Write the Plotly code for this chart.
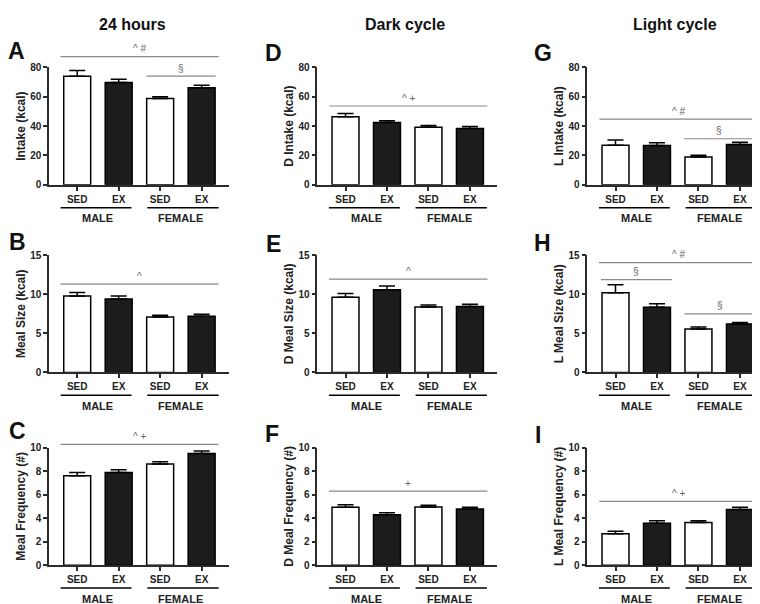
import plotly.graph_objects as go

# ---------------- data ----------------
categories = ["SED", "EX", "SED", "EX"]
groups = ["MALE", "FEMALE"]
column_titles = ["24 hours", "Dark cycle", "Light cycle"]

intake_24h = [74.0, 69.8, 58.8, 66.2]
intake_24h_err = [3.9, 2.2, 1.3, 1.6]
meal_size_24h = [9.77, 9.40, 7.10, 7.19]
meal_size_24h_err = [0.45, 0.37, 0.20, 0.25]
meal_freq_24h = [7.62, 7.88, 8.61, 9.50]
meal_freq_24h_err = [0.27, 0.25, 0.19, 0.22]

intake_dark = [46.4, 42.4, 39.2, 38.4]
intake_dark_err = [2.2, 1.3, 1.3, 1.4]
meal_size_dark = [9.61, 10.58, 8.36, 8.44]
meal_size_dark_err = [0.47, 0.46, 0.25, 0.29]
meal_freq_dark = [4.93, 4.29, 4.95, 4.77]
meal_freq_dark_err = [0.22, 0.17, 0.15, 0.15]

intake_light = [27.0, 26.8, 19.0, 27.5]
intake_light_err = [3.5, 1.9, 1.1, 1.5]
meal_size_light = [10.2, 8.32, 5.56, 6.19]
meal_size_light_err = [1.0, 0.45, 0.25, 0.20]
meal_freq_light = [2.68, 3.56, 3.62, 4.73]
meal_freq_light_err = [0.20, 0.22, 0.15, 0.20]

# significance bars: (x start, x end, y value, label)
sig_A = [(-0.40, 3.41, 87.4, "^ #"), (1.67, 3.34, 74.0, "§")]
sig_D = [(-0.39, 3.42, 53.7, "^ +")]
sig_G = [(-0.39, 3.43, 44.8, "^ #"), (1.65, 3.36, 31.4, "§")]
sig_B = [(-0.40, 3.41, 11.28, "^")]
sig_E = [(-0.40, 3.42, 11.92, "^")]
sig_H = [(-0.40, 3.42, 14.03, "^ #"), (-0.35, 1.36, 11.87, "§"), (1.66, 3.36, 7.48, "§")]
sig_C = [(-0.40, 3.41, 10.28, "^ +")]
sig_F = [(-0.40, 3.42, 6.3, "+")]
sig_I = [(-0.39, 3.43, 5.43, "^ +")]

# group underline spans (category units)
group_spans = [(-0.40, 1.31), (1.69, 3.41)]
group_centers = [0.5, 2.5]

# panel definitions: (row, col, letter, values, errors, y title, y max, y ticks, sig)
panels = [
    (0, 0, "A", intake_24h, intake_24h_err, "Intake (kcal)", 80, [0, 20, 40, 60, 80], sig_A),
    (0, 1, "D", intake_dark, intake_dark_err, "D Intake (kcal)", 80, [0, 20, 40, 60, 80], sig_D),
    (0, 2, "G", intake_light, intake_light_err, "L Intake (kcal)", 80, [0, 20, 40, 60, 80], sig_G),
    (1, 0, "B", meal_size_24h, meal_size_24h_err, "Meal Size (kcal)", 15, [0, 5, 10, 15], sig_B),
    (1, 1, "E", meal_size_dark, meal_size_dark_err, "D Meal Size (kcal)", 15, [0, 5, 10, 15], sig_E),
    (1, 2, "H", meal_size_light, meal_size_light_err, "L Meal Size (kcal)", 15, [0, 5, 10, 15], sig_H),
    (2, 0, "C", meal_freq_24h, meal_freq_24h_err, "Meal Frequency (#)", 10, [0, 2, 4, 6, 8, 10], sig_C),
    (2, 1, "F", meal_freq_dark, meal_freq_dark_err, "D Meal Frequency (#)", 10, [0, 2, 4, 6, 8, 10], sig_F),
    (2, 2, "I", meal_freq_light, meal_freq_light_err, "L Meal Frequency (#)", 10, [0, 2, 4, 6, 8, 10], sig_I),
]

# ---------------- layout geometry ----------------
W, H = 760, 604
col_left_px = [41, 309.3, 579.3]
col_width_px = 180
row_px = [(54.5, 174.3), (246.0, 365.7), (442.5, 562.3)]  # (top, bottom)
x_range = [-0.68, 3.66]

letter_pos = {"A": (8, 38), "D": (265, 40), "G": (535, 40),
              "B": (9, 233), "E": (265, 235), "H": (534, 234),
              "C": (9, 425), "F": (264, 429), "I": (530, 430)}
title_x_px = [124, 397, 667]

FONT = "Liberation Sans, Arial, sans-serif"
AX = "#2b2b2b"
SIG = "#8a8a8a"
bar_fill = ["white", "#1c1c1c", "white", "#1c1c1c"]

fig = go.Figure()
layout = dict(width=W, height=H, margin=dict(l=0, r=0, t=0, b=0),
              paper_bgcolor="white", plot_bgcolor="white", showlegend=False,
              font=dict(family=FONT, color="#222"))
shapes, annotations = [], []

for i, (r, c, letter, vals, errs, ytitle, ymax, yticks, sig) in enumerate(panels):
    n = i + 1
    xa = "x" if n == 1 else f"x{n}"
    ya = "y" if n == 1 else f"y{n}"
    fig.add_trace(go.Bar(
        x=list(range(len(categories))), y=vals, xaxis=xa, yaxis=ya,
        width=0.65,
        marker=dict(color=bar_fill, line=dict(color="black", width=1.5)),
        error_y=dict(type="data", array=errs, arrayminus=[0] * len(errs), symmetric=False,
                     color="black", thickness=1.5, width=8),
        hoverinfo="skip"))

    x0 = col_left_px[c] / W
    x1 = (col_left_px[c] + col_width_px) / W
    top, bot = row_px[r]
    y0 = 1 - bot / H
    y1 = 1 - top / H
    layout["xaxis" if n == 1 else f"xaxis{n}"] = dict(
        domain=[x0, x1], anchor=ya, range=x_range,
        tickvals=list(range(len(categories))), ticktext=categories,
        ticks="outside", ticklen=4, tickwidth=1.5, tickcolor=AX,
        showline=True, linecolor=AX, linewidth=1.5, showgrid=False, zeroline=False,
        tickfont=dict(family=FONT, size=10, weight="bold", color="#222"), fixedrange=True)
    layout["yaxis" if n == 1 else f"yaxis{n}"] = dict(
        domain=[y0, y1], anchor=xa, range=[0, ymax], tickvals=yticks,
        ticks="outside", ticklen=4, tickwidth=1.5, tickcolor=AX,
        showline=True, linecolor=AX, linewidth=1.5, showgrid=False, zeroline=False,
        tickfont=dict(family=FONT, size=10, weight="bold", color="#222"),
        title=dict(text=ytitle, standoff=2,
                   font=dict(family=FONT, size=12, weight="bold", color="#222")),
        fixedrange=True)

    # group underlines and labels
    for (g0, g1), gc, gname in zip(group_spans, group_centers, groups):
        shapes.append(dict(type="line", xref=xa, yref=f"{ya} domain",
                           x0=g0, x1=g1, y0=-0.195, y1=-0.195,
                           line=dict(color="black", width=1.5)))
        annotations.append(dict(xref=xa, yref=f"{ya} domain", x=gc, y=-0.285,
                                text=gname, showarrow=False, xanchor="center", yanchor="middle",
                                font=dict(family=FONT, size=11, weight="bold", color="#222")))

    # significance bars
    for s0, s1, sy, lab in sig:
        frac = sy / ymax
        shapes.append(dict(type="line", xref=xa, yref=f"{ya} domain",
                           x0=s0, x1=s1, y0=frac, y1=frac,
                           line=dict(color=SIG, width=1.2)))
        annotations.append(dict(xref=xa, yref=f"{ya} domain", x=(s0 + s1) / 2, y=frac,
                                yshift=8, text=lab, showarrow=False,
                                xanchor="center", yanchor="middle",
                                font=dict(family=FONT, size=10, color="#666")))

    lx, ly = letter_pos[letter]
    annotations.append(dict(xref="paper", yref="paper", x=lx / W, y=1 - ly / H,
                            text=letter, showarrow=False, xanchor="center", yanchor="middle",
                            font=dict(family=FONT, size=23, weight="bold", color="#111")))

for t, tx in zip(column_titles, title_x_px):
    annotations.append(dict(xref="paper", yref="paper", x=tx / W, y=1 - 11 / H,
                            text=t, showarrow=False, xanchor="center", yanchor="middle",
                            font=dict(family=FONT, size=16, weight="bold", color="#111")))

layout["shapes"] = shapes
layout["annotations"] = annotations
fig.update_layout(**layout)
fig.write_html("out.html")
